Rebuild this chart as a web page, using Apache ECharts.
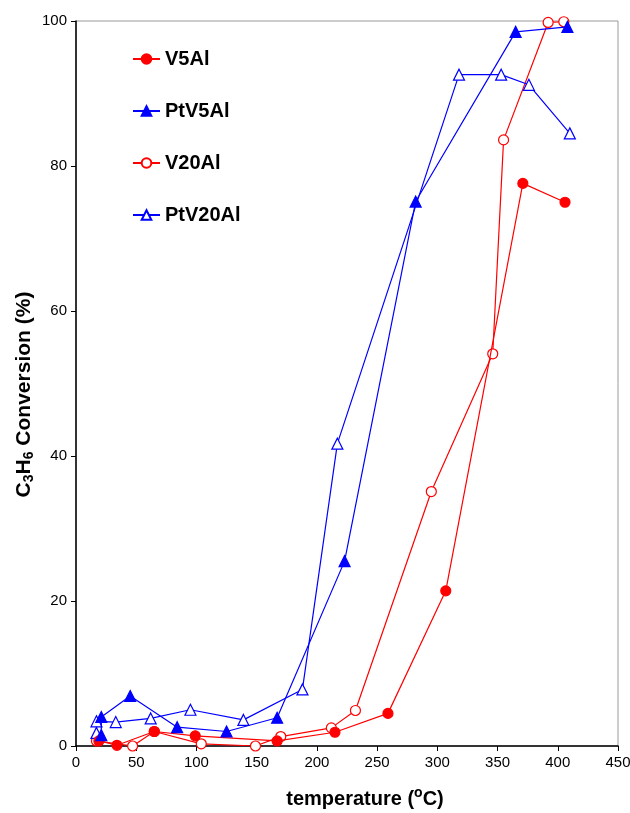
<!DOCTYPE html>
<html><head><meta charset="utf-8">
<script src="https://cdn.jsdelivr.net/npm/echarts@6/dist/echarts.min.js"></script>
<style>html,body{margin:0;padding:0;background:#fff}#c{width:630px;height:813px}</style>
</head><body><div id="c"></div>
<script>
const seriesNames = ['V5Al', 'PtV5Al', 'V20Al', 'PtV20Al'];
const v5al = [[19,0.7],[34,0.1],[65,2.0],[99,1.4],[167,0.7],[215,1.9],[259,4.5],[307,21.4],[371,77.6],[406,75.0]];
const ptv5al = [[21,1.5],[21,4.0],[45,6.9],[84,2.6],[125,2.0],[167,3.9],[223,25.5],[282,75.1],[365,98.5],[408,99.2]];
const v20al = [[17,0.7],[47,0.0],[65,2.0],[104,0.3],[149,0.0],[170,1.3],[212,2.5],[232,4.9],[295,35.1],[346,54.1],[355,83.6],[392,99.8],[405,99.9]];
const ptv20al = [[17,1.8],[17,3.4],[33,3.3],[62,3.8],[95,5.0],[139,3.6],[188,7.8],[217,41.7],[318,92.6],[353,92.6],[376,91.2],[410,84.5]];
const xTicks = [0,50,100,150,200,250,300,350,400,450];
const yTicks = [0,20,40,60,80,100];

const chart = echarts.init(document.getElementById('c'));
const font = 'Liberation Sans, Arial, sans-serif';
function mk(name, data, color, symbol, filled, size) {
  return {
    name, type: 'line', data, symbol, symbolSize: size,
    lineStyle: { color, width: 1.2 },
    itemStyle: { color: filled ? color : '#fff', borderColor: color, borderWidth: 1.2 },
    color, z: filled ? 3 : 2
  };
}
chart.setOption({
  animation: false,
  backgroundColor: '#fff',
  grid: { left: 76, right: 12, top: 21, bottom: 67, show: true, borderColor: '#999', borderWidth: 1,
          containLabel: false, outerBoundsMode: 'none' },
  legend: {
    orient: 'vertical', left: 132, top: 48, itemGap: 30, itemWidth: 27, itemHeight: 12, padding: 0,
    data: seriesNames,
    textStyle: { fontFamily: font, fontSize: 20, fontWeight: 'bold', color: '#000', lineHeight: 22 }
  },
  xAxis: {
    type: 'value', min: xTicks[0], max: xTicks[xTicks.length-1], interval: 50,
    axisLine: { lineStyle: { color: '#000', width: 1.5 } },
    axisTick: { show: true, inside: false, length: 5, lineStyle: { color: '#000' } },
    axisLabel: { fontFamily: font, fontSize: 15, color: '#000', margin: 9 },
    splitLine: { show: false },
    name: 'temperature ({sup|o}C)', nameLocation: 'middle', nameGap: 40, nameMoveOverlap: false,
    nameTextStyle: { fontFamily: font, fontSize: 20, fontWeight: 'bold', color: '#000', padding: [0,0,0,36],
      rich: { sup: { fontFamily: font, fontSize: 14, fontWeight: 'bold', verticalAlign: 'top', padding: [0,0,12,0] } } }
  },
  yAxis: {
    type: 'value', min: yTicks[0], max: yTicks[yTicks.length-1], interval: 20,
    axisLine: { show: true, lineStyle: { color: '#000', width: 1.5 } },
    axisTick: { show: true, inside: false, length: 5, lineStyle: { color: '#000' } },
    axisLabel: { fontFamily: font, fontSize: 15, color: '#000', margin: 9 },
    splitLine: { show: false },
    name: 'C{sub|3}H{sub|6} Conversion (%)', nameLocation: 'middle', nameGap: 40, nameMoveOverlap: false,
    nameTextStyle: { fontFamily: font, fontSize: 21, fontWeight: 'bold', color: '#000', padding: [0,22,0,0],
      rich: { sub: { fontFamily: font, fontSize: 14, fontWeight: 'bold', padding: [10,0,0,0] } } }
  },
  series: [
    mk('V5Al', v5al, '#ff0000', 'circle', true, 10),
    mk('PtV5Al', ptv5al, '#0000ff', 'triangle', true, 11),
    mk('V20Al', v20al, '#ff0000', 'circle', false, 10),
    mk('PtV20Al', ptv20al, '#0000ff', 'triangle', false, 11)
  ]
});
</script></body></html>
